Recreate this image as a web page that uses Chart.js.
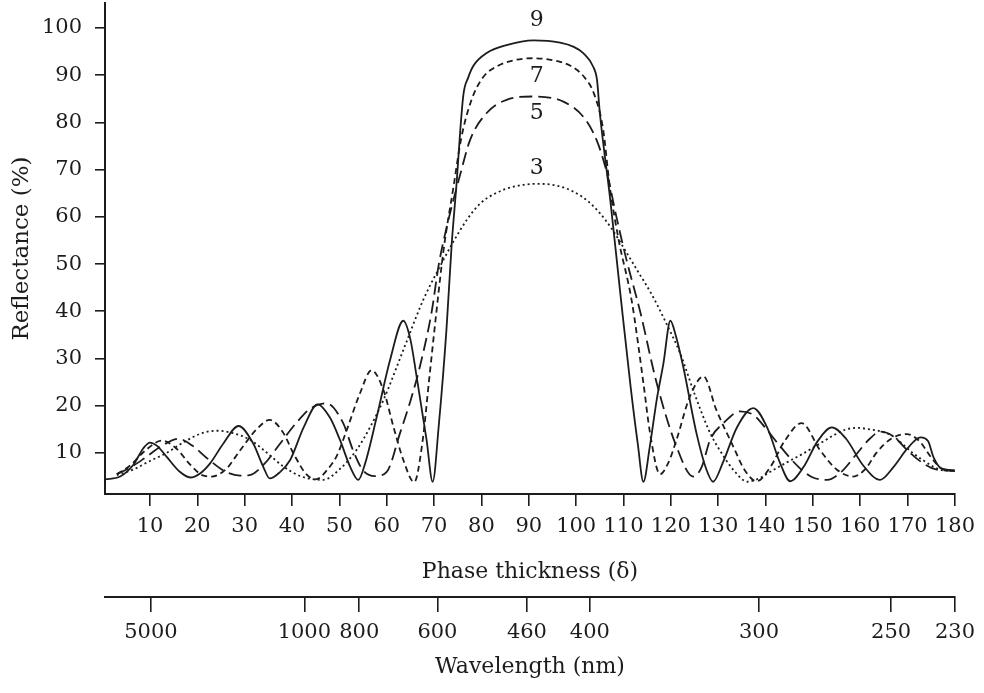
<!DOCTYPE html>
<html><head><meta charset="utf-8">
<script src="https://cdn.jsdelivr.net/npm/chart.js@4.4.0/dist/chart.umd.min.js"></script>
<style>html,body{margin:0;padding:0;background:#fff}#wrap{width:984px;height:693px}</style>
</head><body><div id="wrap"><canvas id="c" width="984" height="693"></canvas></div>
<script>
// ---- data ----
const phaseTicks = [10,20,30,40,50,60,70,80,90,100,110,120,130,140,150,160,170,180];
const reflTicks = [10,20,30,40,50,60,70,80,90,100];
const wlTickPhase = [10.2,42.6,54.2,70.7,89.6,102.9,138.6,166.5,180];
const wlTickLabels = ['5000','1000','800','600','460','400','300','250','230'];

const phase9 = [0.5,3.7,6.5,8.6,10,11.5,13.5,16.3,18.5,20.5,22.7,25.5,28.7,31.8,33.9,35.3,37.3,39.6,42.5,45.4,48,50.1,52.3,54,55.5,57.9,60.7,63.5,65,66.3,68.4,69.7,71,72.6,73.7,74.8,75.5,76.2,77.2,78.3,81.1,85.3,91,96.6,99.5,101.5,103.6,104.4,105,107.2,109.3,111.5,113,114.2,115.5,117,118.4,119.9,121,122.6,125.4,127.5,128.9,131,134,137.4,140.5,143,145.2,148,151,154,157,160.5,164.2,167,170,172.7,174.3,175.5,177,180];
const refl9 = [4.4,5,7.5,11,12.2,11.5,9.2,6,4.8,5.6,7.8,12,15.7,12,7.1,4.6,5.8,8.5,15.5,20.3,17.5,12.8,7,4.3,8,17.7,29.7,38,34,26.2,12.8,3.9,16,36,54,67.8,78,86,89.5,92,94.7,96.4,97.4,96.9,96,94.7,91.8,89,82,63.6,44,24,12,3.9,11,21.2,28.8,38,35,28.3,14.2,6.5,3.9,8,15.5,19.5,15,8,4,7,12.5,15.4,13,7.5,4.3,7,11,13.3,12.5,9,6.8,6.3];

const phase7 = [3,6,9,12.5,15.5,18.5,21,23,26,29,32.5,35.3,38,40.5,43,45,47.5,49.5,51.6,54.3,56.8,59.3,61.4,63.5,65.8,67.5,69,70.5,72,74.1,75.7,77.8,80.3,83.5,87,91,95,98.8,101.8,103.8,105.7,107.1,109,111.7,114.2,115.6,117.7,119.5,121.2,124,126.9,129.6,133.2,135.5,138.1,141,144,147.6,151.5,155,158.5,161,163.4,166.5,169.8,172.5,175,177.5,180];
const refl7 = [5.5,7.5,10.5,12.6,11,7.5,5.3,5,6.5,10.5,15,17,14.5,9.5,5.5,4.4,6.5,9.5,15,22.5,27.5,23.3,15.6,8.5,3.8,12,26,40,53,66.4,76.5,84.5,89.5,92,93.2,93.6,93.2,92,89.5,86,78.5,66.4,55,42.4,24.8,14.2,5.5,8,12.8,21.9,26.2,19.1,11.3,6.5,4,7,12.5,16.3,10.6,6.5,5,6.5,10,13,14,12.5,9,6.5,6.2];

const phase5 = [3,6,9,12.5,16,19,22.5,26,29,31,34,37.5,41,44,47.3,50.8,52.9,55,57.5,60,62.8,65,67,69.5,71,72.7,75.6,77.6,81.1,85.3,91,97.3,101.5,104.3,106.5,108.5,110.6,113.5,117,121.2,124.7,126.5,128.3,131.1,134.6,137.5,140.2,143,147,150,153,156,159,162,164.2,167,170,173,176,180];
const refl5 = [5.5,7,9,11.5,13,11.5,8.5,6,5.2,5.3,7.5,12,16.5,19.5,20.5,16.3,10.5,6.3,5.1,6,14.2,21,28.3,40,50,58,69.3,76.3,82,84.8,85.5,84.4,81.2,76.3,69.3,60,51,40,24.8,11.3,5,7,12.8,16.3,18.8,18,15,11.5,7,4.8,4.3,6,9.5,13,14.5,13.5,10.5,8,6.5,6.2];

const phase3 = [3,6.5,10,13.5,17.5,21,24.1,27.5,31.1,34.5,38.2,42,46.6,50,53.6,56.5,59.3,63.5,67.7,71.5,74.1,77,79.8,83,86.8,92,96,99.5,102.5,105,107.5,110,113,116,119,122,125,128.3,131,133.2,136.2,139,141,144.5,148,151.5,154.5,157.1,159.5,162,164.5,167,169,171.2,173.5,175.4,177.5,180];
const refl3 = [5.3,6.5,8.3,10,12.5,14.2,14.7,14.2,12.8,10.2,7.1,5,4.3,6.5,10.6,15.5,21.2,31.8,42.4,50,54.8,59.5,62.9,65,66.4,67,66.6,65.3,63.3,60.8,57.5,53.5,48.5,43.5,37.5,31,22.5,14.2,9.5,6.4,3.9,4.8,6,8,9.9,12,13.8,15,15.3,15,14.5,13.5,11.8,9.9,8.3,7.1,6.3,6.2];

const curveNames = ['9','7','5','3'];
const curveLabelPhase = [91.7,91.7,91.7,91.7];
const curveLabelRefl = [101.6,89.7,82.0,70.3];

// ---- chart ----
const INK = '#1e1b1c';
const FAM = '"DejaVu Serif", "Liberation Serif", serif';
const pts = (xs, ys) => xs.map((x, i) => ({x, y: ys[i]}));
const ds = (label, xs, ys, dash) => ({
  label, data: pts(xs, ys), borderColor: INK, borderWidth: 1.8, borderDash: dash,
  pointRadius: 0, fill: false, cubicInterpolationMode: 'monotone', xAxisID: 'x', yAxisID: 'y'
});

const labelPlugin = {
  id: 'curveLabels',
  afterDatasetsDraw(chart) {
    const {ctx, scales} = chart;
    ctx.save();
    ctx.fillStyle = INK;
    ctx.font = '22px ' + FAM;
    ctx.textAlign = 'center';
    ctx.textBaseline = 'middle';
    curveNames.forEach((t, i) => {
      ctx.fillText(t, scales.x.getPixelForValue(curveLabelPhase[i]), scales.y.getPixelForValue(curveLabelRefl[i]));
    });
    ctx.restore();
  }
};

const tickFont = {family: FAM, size: 21};
const titleFont = {family: FAM, size: 22};

new Chart(document.getElementById('c'), {
  type: 'line',
  data: {
    datasets: [
      ds('9', phase9, refl9, []),
      ds('7', phase7, refl7, [6, 4]),
      ds('5', phase5, refl5, [13, 6]),
      ds('3', phase3, refl3, [2, 3])
    ]
  },
  options: {
    responsive: false,
    animation: false,
    devicePixelRatio: 1,
    layout: {padding: {top: 3, right: 29, left: 0, bottom: 0}},
    plugins: {legend: {display: false}, tooltip: {enabled: false}},
    scales: {
      x: {
        type: 'linear', position: 'bottom', weight: 0, min: 0.5, max: 180,
        afterBuildTicks: s => { s.ticks = phaseTicks.map(v => ({value: v})); },
        ticks: {autoSkip: false, maxRotation: 0, padding: 8, color: INK, font: tickFont, callback: v => String(v)},
        grid: {drawOnChartArea: false, drawTicks: true, tickLength: 12, color: INK, lineWidth: 1.6},
        border: {display: true, color: INK, width: 2},
        title: {display: true, text: 'Phase thickness (δ)', color: INK, font: titleFont, padding: {top: 0, bottom: 12}},
        afterFit: s => { s.height = 103; s.paddingLeft = 0; s.paddingRight = 0; }
      },
      x2: {
        type: 'linear', position: 'bottom', weight: 1, min: 0.5, max: 180,
        afterBuildTicks: s => { s.ticks = wlTickPhase.map(v => ({value: v})); },
        ticks: {autoSkip: false, maxRotation: 0, padding: 8, color: INK, font: tickFont, callback: (v, i) => wlTickLabels[i]},
        grid: {drawOnChartArea: false, drawTicks: true, tickLength: 15, color: INK, lineWidth: 1.6},
        border: {display: true, color: INK, width: 2},
        title: {display: true, text: 'Wavelength (nm)', color: INK, font: titleFont, padding: {top: 0, bottom: 13}},
        afterFit: s => { s.height = 96; s.paddingLeft = 0; s.paddingRight = 0; }
      },
      y: {
        type: 'linear', position: 'left', min: 1.3, max: 105.3,
        afterBuildTicks: s => { s.ticks = reflTicks.map(v => ({value: v})); },
        ticks: {autoSkip: false, padding: 13, color: INK, font: tickFont, callback: v => String(v)},
        grid: {drawOnChartArea: false, drawTicks: true, tickLength: 10, color: INK, lineWidth: 1.6},
        border: {display: true, color: INK, width: 2},
        title: {display: true, text: 'Reflectance (%)', color: INK, font: {family: FAM, size: 23}, padding: {top: 8, bottom: 0}},
        afterFit: s => { s.width = 105; s.paddingTop = 0; s.paddingBottom = 0; }
      }
    }
  },
  plugins: [labelPlugin]
});
</script></body></html>
